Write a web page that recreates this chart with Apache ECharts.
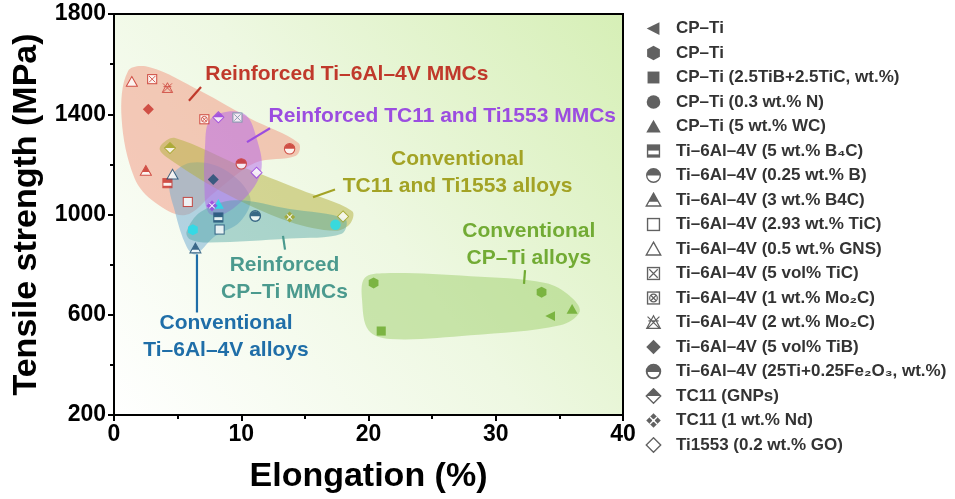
<!DOCTYPE html>
<html>
<head>
<meta charset="utf-8">
<script src="https://cdn.jsdelivr.net/npm/echarts@6/dist/echarts.min.js"></script>
<style>
    html, body { margin: 0; padding: 0; background: #fff; }
    #chart { width: 955px; height: 499px; }
</style>
</head>
<body>
<div id="chart"></div>
<script>
// legend entries (series), in legend order
const materials = [
    "CP–Ti",
    "CP–Ti\u200b",
    "CP–Ti (2.5TiB+2.5TiC, wt.%)",
    "CP–Ti (0.3 wt.% N)",
    "CP–Ti (5 wt.% WC)",
    "Ti–6Al–4V (5 wt.% B₄C)",
    "Ti–6Al–4V (0.25 wt.% B)",
    "Ti–6Al–4V (3 wt.% B4C)",
    "Ti–6Al–4V (2.93 wt.% TiC)",
    "Ti–6Al–4V (0.5 wt.% GNS)",
    "Ti–6Al–4V (5 vol% TiC)",
    "Ti–6Al–4V (1 wt.% Mo₂C)",
    "Ti–6Al–4V (2 wt.% Mo₂C)",
    "Ti–6Al–4V (5 vol% TiB)",
    "Ti–6Al–4V (25Ti+0.25Fe₂O₃, wt.%)",
    "TC11 (GNPs)",
    "TC11 (1 wt.% Nd)",
    "Ti1553 (0.2 wt.% GO)",
];

// one entry per plotted point
const elongation = [34.3, 20.4, 33.6, 6.2, 21.0, 17.4, 36.0, 8.2, 4.2, 8.2, 13.8, 10.0, 2.5, 6.4,
    5.8, 8.3, 1.4, 4.6, 3.0, 9.7, 7.1, 4.2, 2.7, 7.8, 11.1, 8.2, 4.4, 7.7, 13.8, 11.2, 18.0];
const strength = [595, 727, 690, 939, 535, 959, 622, 1041, 1125, 988, 1262, 1202, 1175, 865,
    1050, 940, 1530, 1160, 1540, 1387, 1380, 1505, 1420, 1140, 994, 1388, 1265, 1035, 990, 1167, 992];
const material = [0, 1, 1, 1, 2, 3, 4, 4, 5, 5, 6, 6, 7, 7,
    8, 8, 9, 9, 10, 10, 11, 12, 13, 13, 14, 15, 15, 16, 16, 17, 17];
const family = ["cp", "cp", "cp", "cpm", "cp", "cpm", "cp", "cpm", "tmmc", "t64", "tmmc", "tmmc", "tmmc", "t64",
    "tmmc", "t64", "tmmc", "t64", "tmmc", "grey", "tmmc", "tmmc", "tmmc", "t64", "t64", "tcm", "tc", "tcm", "tc", "tcm", "tc"];

// shaded regions, outlines in data units (elongation, strength)
const zoneTi64MMC = [[1.1, 1572], [2.8, 1588], [6.8, 1493], [10.7, 1383], [14.5, 1285], [14.3, 1234],
    [11.1, 1206], [7.9, 1088], [5.6, 998], [3.2, 1049], [1.6, 1147], [0.6, 1383]];
const zoneTi64 = [[4.4, 1140], [6.0, 1206], [8.7, 1179], [10.7, 1069], [9.9, 971], [7.9, 912],
    [6.4, 841], [5.7, 872], [4.8, 1010]];
const zoneTC = [[3.85, 1285], [4.8, 1305], [9.9, 1195], [14.6, 1100], [18.7, 1014], [18.55, 963],
    [17.4, 935], [13.8, 971], [8.3, 1096], [4.2, 1226], [3.6, 1258]];
const zoneTCMMC = [[7.5, 1375], [9.0, 1411], [10.4, 1395], [11.2, 1305], [11.6, 1187], [10.7, 1089],
    [8.5, 998], [7.4, 1010], [7.1, 1128], [7.15, 1265]];
const zoneCPMMC = [[5.7, 931], [6.8, 1010], [9.5, 1057], [13.8, 1022], [18.15, 982], [17.9, 923],
    [13.8, 904], [7.5, 888], [6.0, 900]];
const zoneCP = [[19.7, 747], [21.3, 766], [28.0, 754], [33.9, 727], [35.8, 676], [36.6, 613],
    [35.05, 558], [28.0, 518], [21.7, 503], [20.0, 538], [19.5, 656]];

const noteTexts = [
    "Reinforced Ti–6Al–4V MMCs",
    "Reinforced TC11 and Ti1553 MMCs",
    "Conventional\nTC11 and Ti1553 alloys",
    "Conventional\nCP–Ti alloys",
    "Reinforced\nCP–Ti MMCs",
    "Conventional\nTi–6Al–4V alloys",
];

// ---- styling ----
const shapes = ["ltri", "hex", "sq", "circ", "tri", "hsq", "hcirc", "htri", "osq", "otri",
    "xsq", "cxsq", "xx", "dia", "hcirc2", "hdia", "nd", "odia"];
const familyColor = {
    cp: "#6aa92a", cpm: "#22e0ee", tmmc: "#c8322a", t64: "#1d4e74",
    tc: "#a4a628", tcm: "#9b45e0", grey: "#6d98a4",
};
const zoneStyle = [
    { pts: zoneTi64MMC, fill: "rgba(242,150,128,0.5)" },
    { pts: zoneTi64, fill: "rgba(110,170,210,0.5)" },
    { pts: zoneTC, fill: "rgba(180,176,60,0.5)" },
    { pts: zoneTCMMC, fill: "rgba(180,100,235,0.5)" },
    { pts: zoneCPMMC, fill: "rgba(70,160,160,0.42)" },
    { pts: zoneCP, fill: "rgba(160,208,110,0.5)" },
];
// text centre, leader start, leader end (data units)
const notePlace = [
    { at: [18.3, 1560], a: [6.84, 1509], b: [5.89, 1454], color: "#c0392b" },
    { at: [25.8, 1391], a: [12.26, 1344], b: [10.45, 1289], color: "#9b4de0" },
    { at: [27.0, 1165], a: [17.37, 1100], b: [15.64, 1069], color: "#a3a325" },
    { at: [32.6, 878], a: [32.3, 778], b: [32.22, 723], color: "#72ab34" },
    { at: [13.4, 743], a: [13.28, 915], b: [13.44, 860], color: "#4b9a8e" },
    { at: [8.8, 511], a: [6.52, 841], b: [6.52, 609], color: "#1f6ea8" },
];
const font = '"Liberation Sans", Arial, sans-serif';

function icon(shape, c) {
    const sw = 'stroke="' + c + '" stroke-width="1.6" fill="#fff"';
    const ln = 'stroke="' + c + '" stroke-width="1.4"';
    let s = "";
    switch (shape) {
        case "ltri": s = '<polygon points="2,10 17,2.5 17,17.5" fill="' + c + '"/>'; break;
        case "hex": s = '<polygon points="10,1.5 17.5,5.5 17.5,14.5 10,18.5 2.5,14.5 2.5,5.5" fill="' + c + '"/>'; break;
        case "sq": s = '<rect x="3" y="3" width="14" height="14" fill="' + c + '"/>'; break;
        case "circ": s = '<circle cx="10" cy="10" r="8" fill="' + c + '"/>'; break;
        case "tri": s = '<polygon points="10,2 18.5,17 1.5,17" fill="' + c + '"/>'; break;
        case "hsq": s = '<rect x="3" y="3" width="14" height="14" ' + sw + '/><rect x="3" y="3" width="14" height="6.5" fill="' + c + '"/><rect x="3" y="14" width="14" height="3" fill="' + c + '"/>'; break;
        case "hcirc": s = '<circle cx="10" cy="10" r="8" ' + sw + '/><path d="M2,10 A8,8 0 0 1 18,10 Z" fill="' + c + '"/>'; break;
        case "hcirc2": s = '<circle cx="10" cy="10" r="8" stroke="' + c + '" stroke-width="2.2" fill="#fff"/><path d="M2,10.5 A8,8 0 0 1 18,10.5 Z" fill="' + c + '"/>'; break;
        case "htri": s = '<polygon points="10,2 18.5,17 1.5,17" ' + sw + '/><polygon points="10,2 15.6,12 4.4,12" fill="' + c + '"/>'; break;
        case "osq": s = '<rect x="3" y="3" width="14" height="14" ' + sw + '/>'; break;
        case "otri": s = '<polygon points="10,2 18.5,17 1.5,17" ' + sw + '/>'; break;
        case "xsq": s = '<rect x="3" y="3" width="14" height="14" ' + sw + '/><path d="M5,5 L15,15 M15,5 L5,15" ' + ln + '/>'; break;
        case "cxsq": s = '<rect x="3" y="3" width="14" height="14" ' + sw + '/><circle cx="10" cy="10" r="4.5" ' + ln + ' fill="none"/><path d="M6.8,6.8 L13.2,13.2 M13.2,6.8 L6.8,13.2" ' + ln + '/>'; break;
        case "xx": s = '<path d="M3,3 L17,17 M17,3 L3,17 M10,2 L18,17 L2,17 Z M4,8 L16,8" ' + ln + ' fill="none"/>'; break;
        case "dia": s = '<polygon points="10,1.5 18.5,10 10,18.5 1.5,10" fill="' + c + '"/>'; break;
        case "hdia": s = '<polygon points="10,1.5 18.5,10 10,18.5 1.5,10" ' + sw + '/><polygon points="10,1.5 18.5,10 1.5,10" fill="' + c + '"/>'; break;
        case "nd": s = '<polygon points="10,1.5 18.5,10 10,18.5 1.5,10" fill="' + c + '"/><path d="M5.8,5.8 L14.2,14.2 M14.2,5.8 L5.8,14.2" stroke="#fff" stroke-width="1.6"/><circle cx="10" cy="10" r="1.6" fill="#fff"/>'; break;
        case "odia": s = '<polygon points="10,1.5 18.5,10 10,18.5 1.5,10" ' + sw + '/>'; break;
    }
    const svg = '<svg xmlns="http://www.w3.org/2000/svg" width="20" height="20" viewBox="0 0 20 20">' + s + '</svg>';
    return "image://data:image/svg+xml;charset=utf-8," + encodeURIComponent(svg);
}

const chart = echarts.init(document.getElementById("chart"));

const pointSeries = materials.map((name, m) => ({
    type: "scatter",
    name: name,
    symbolSize: 13,
    silent: true,
    z: 5,
    data: elongation
        .map((x, i) => ({ i: i, x: x }))
        .filter((p) => material[p.i] === m)
        .map((p) => ({
            value: [p.x, strength[p.i]],
            symbol: icon(shapes[m], familyColor[family[p.i]]),
        })),
}));

const zoneSeries = {
    type: "custom",
    silent: true,
    z: 1,
    data: zoneStyle.map((z, i) => [i, 0]),
    renderItem(params, api) {
        const zone = zoneStyle[params.dataIndex];
        return {
            type: "polygon",
            shape: { points: zone.pts.map((p) => api.coord(p)), smooth: 0.35 },
            style: { fill: zone.fill },
        };
    },
};

const noteSeries = {
    type: "custom",
    silent: true,
    z: 10,
    clip: false,
    data: noteTexts.map((t, i) => [i, 0]),
    renderItem(params, api) {
        const n = notePlace[params.dataIndex];
        const c = api.coord(n.at);
        const a = api.coord(n.a);
        const b = api.coord(n.b);
        return {
            type: "group",
            children: [
                {
                    type: "line",
                    shape: { x1: a[0], y1: a[1], x2: b[0], y2: b[1] },
                    style: { stroke: n.color, lineWidth: 2.2 },
                },
                {
                    type: "text",
                    x: c[0],
                    y: c[1],
                    style: {
                        text: noteTexts[params.dataIndex],
                        fill: n.color,
                        font: "bold 21px " + font,
                        align: "center",
                        verticalAlign: "middle",
                        lineHeight: 27,
                    },
                },
            ],
        };
    },
};

const axisCommon = {
    type: "value",
    nameLocation: "middle",
    nameTextStyle: { fontSize: 34, fontWeight: "bold", color: "#000", fontFamily: font },
    axisLine: { lineStyle: { color: "#000", width: 2 } },
    axisTick: { length: 6, lineStyle: { width: 2, color: "#000" } },
    minorTick: { show: true, splitNumber: 2, length: 4, lineStyle: { width: 2, color: "#000" } },
    splitLine: { show: false },
    axisLabel: {
        fontSize: 23, fontWeight: "bold", color: "#000", margin: 8, fontFamily: font,
        formatter: (v) => String(v),
    },
};

chart.setOption({
    animation: false,
    backgroundColor: "#fff",
    grid: {
        left: 114,
        right: 332,
        top: 14,
        bottom: 78,
        show: true,
        borderColor: "#000",
        borderWidth: 2,
        backgroundColor: new echarts.graphic.LinearGradient(0, 1, 1, 0, [
            { offset: 0, color: "#ffffff" },
            { offset: 0.5, color: "#eef8e2" },
            { offset: 1, color: "#d6efb6" },
        ]),
    },
    legend: {
        orient: "vertical",
        left: 640,
        top: 15,
        itemWidth: 17,
        itemHeight: 17,
        itemGap: 7.5,
        selectedMode: false,
        textStyle: {
            color: "#333",
            fontSize: 17,
            fontWeight: "bold",
            fontFamily: font,
            lineHeight: 17,
            padding: [0, 0, 0, 9],
        },
        data: materials.map((n, i) => ({ name: n, icon: icon(shapes[i], "#3a3a3a") })),
    },
    xAxis: Object.assign({}, axisCommon, {
        min: 0,
        max: 40,
        interval: 10,
        name: "Elongation (%)",
        nameGap: 45,
    }),
    yAxis: Object.assign({}, axisCommon, {
        min: 200,
        max: 1800,
        interval: 400,
        name: "Tensile strength (MPa)",
        nameGap: 64,
    }),
    series: [zoneSeries].concat(pointSeries, [noteSeries]),
});
</script>
</body>
</html>
